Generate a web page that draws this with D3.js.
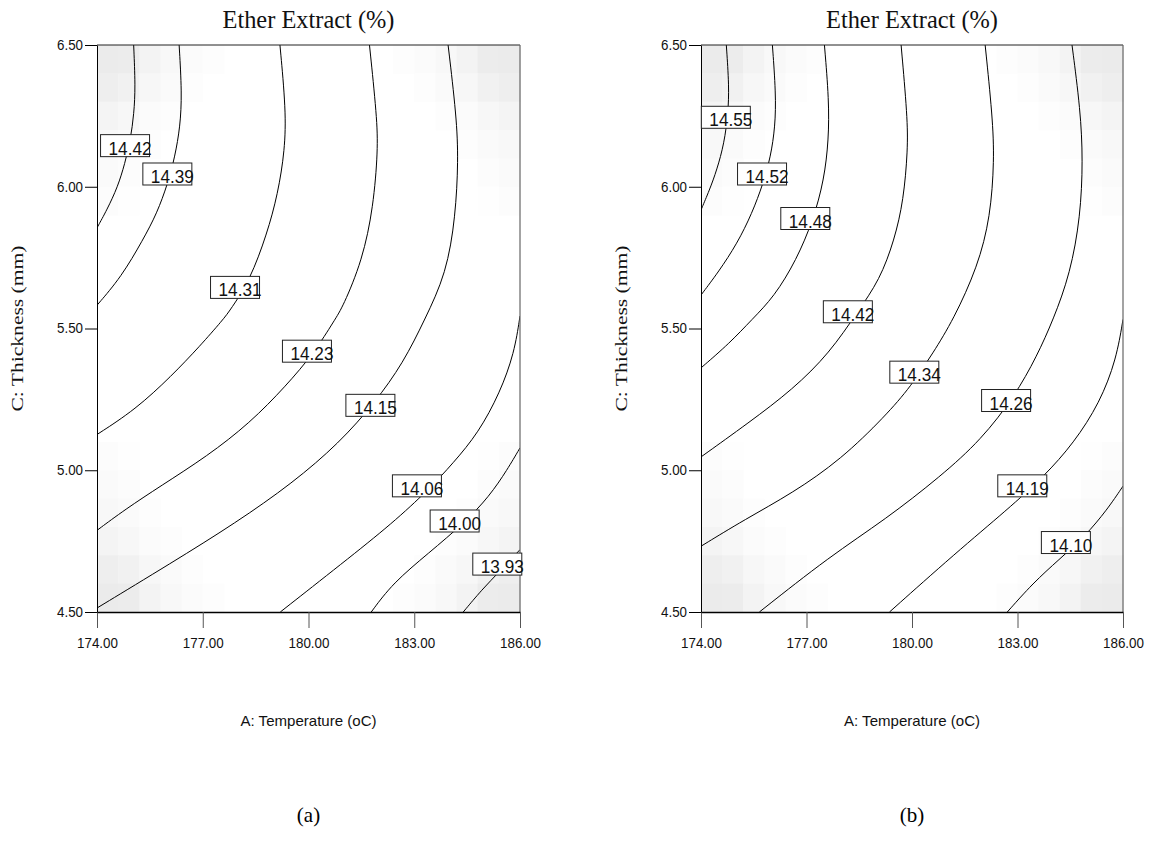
<!DOCTYPE html>
<html>
<head>
<meta charset="utf-8">
<script src="https://cdn.jsdelivr.net/npm/d3@7"></script>
<style>
  html, body { margin: 0; padding: 0; background: #fff; }
  svg { display: block; }
</style>
</head>
<body>
<svg id="chart" width="1151" height="859"></svg>
<script>
// Axis ranges and ticks (A: temperature, C: thickness)
const temperatureTicks = [174, 177, 180, 183, 186];
const thicknessTicks = [4.5, 5.0, 5.5, 6.0, 6.5];

// Panel (a): contour levels, traced iso-lines [temperature, thickness], label anchors
const levelsA = ["14.42", "14.39", "14.31", "14.23", "14.15", "14.06", "14.00", "13.93"];
const linesA = [
  [[175.04,6.5],[175.09,6.353],[175.05,6.259],[174.95,6.165],[174.79,6.082],[174.59,6.0],[174.28,5.918],[174.0,5.855]],
  [[176.33,6.5],[176.41,6.329],[176.36,6.212],[176.21,6.106],[176.01,6.012],[175.70,5.906],[175.30,5.812],[174.69,5.682],[174.0,5.582]],
  [[179.19,6.5],[179.36,6.271],[179.33,6.130],[179.13,5.974],[178.82,5.833],[178.34,5.671],[177.78,5.565],[177.58,5.532],[176.92,5.438],[176.11,5.332],[175.09,5.214],[174.0,5.126]],
  [[181.73,6.5],[181.94,6.247],[181.97,6.129],[181.84,5.929],[181.53,5.741],[180.97,5.575],[180.75,5.532],[180.16,5.414],[179.35,5.296],[178.34,5.167],[177.12,5.049],[175.80,4.944],[174.79,4.861],[174.0,4.788]],
  [[183.96,6.5],[184.20,6.247],[184.25,6.094],[184.17,5.894],[183.91,5.694],[183.30,5.532],[182.69,5.379],[181.88,5.238],[180.87,5.096],[179.55,4.955],[177.93,4.814],[176.11,4.673],[174.0,4.514]],
  [[186.0,5.544],[185.84,5.414],[185.43,5.273],[184.82,5.132],[184.11,5.026],[183.41,4.932],[182.39,4.814],[180.97,4.673],[179.20,4.5]],
  [[186.0,5.079],[185.64,5.002],[185.13,4.908],[184.42,4.814],[183.41,4.708],[182.39,4.602],[181.78,4.5]],
  [[186.0,4.720],[185.43,4.644],[184.92,4.579],[184.39,4.5]]
];
const labelPosA = [[174.81,6.145],[176.01,6.045],[177.93,5.645],[179.97,5.420],[181.77,5.229],[183.09,4.945],[184.16,4.821],[185.37,4.669]];

// Panel (b)
const levelsB = ["14.55", "14.52", "14.48", "14.42", "14.34", "14.26", "14.19", "14.10"];
const linesB = [
  [[174.72,6.5],[174.80,6.353],[174.77,6.259],[174.66,6.153],[174.45,6.059],[174.24,5.988],[174.0,5.918]],
  [[176.03,6.5],[176.13,6.329],[176.11,6.212],[175.98,6.106],[175.77,6.012],[175.45,5.906],[175.03,5.800],[174.50,5.700],[174.0,5.618]],
  [[177.51,6.5],[177.64,6.306],[177.63,6.165],[177.50,6.024],[177.19,5.882],[176.71,5.741],[176.08,5.612],[175.45,5.532],[174.82,5.449],[174.0,5.361]],
  [[179.69,6.5],[179.87,6.247],[179.88,6.129],[179.76,5.953],[179.50,5.812],[179.08,5.671],[178.46,5.560],[177.66,5.414],[176.61,5.285],[175.35,5.167],[174.0,5.047]],
  [[182.08,6.5],[182.29,6.247],[182.34,6.094],[182.23,5.894],[181.87,5.718],[181.18,5.532],[180.60,5.414],[179.97,5.296],[179.24,5.191],[177.98,5.038],[176.61,4.920],[175.24,4.826],[174.0,4.732]],
  [[184.55,6.5],[184.79,6.271],[184.86,6.094],[184.79,5.894],[184.50,5.694],[184.02,5.532],[183.55,5.402],[182.92,5.261],[181.97,5.108],[180.82,4.979],[179.24,4.826],[177.66,4.696],[175.66,4.5]],
  [[186.0,5.532],[185.81,5.391],[185.34,5.238],[184.60,5.096],[183.76,4.979],[182.71,4.861],[181.24,4.708],[179.36,4.5]],
  [[186.0,4.944],[185.55,4.861],[184.92,4.767],[184.18,4.685],[183.44,4.602],[182.71,4.5]]
];
const labelPosB = [[174.72,6.245],[175.75,6.045],[176.98,5.888],[178.19,5.559],[180.08,5.346],[182.69,5.246],[183.15,4.945],[184.39,4.745]];

// Corner shading of the 20x20 background grid (grey depth, corner cell first)
const gridSize = 20;
const cornerShade = [
  [20, 19, 12, 7, 4, 2],
  [17, 14, 8, 5, 2, 0],
  [11, 8, 4, 2, 0, 0],
  [7, 5, 2, 0, 0, 0],
  [5, 3, 0, 0, 0, 0],
  [3, 1, 0, 0, 0, 0]
];

const panels = [
  { left: 97, right: 520, levels: levelsA, lines: linesA, labels: labelPosA, tag: "(a)" },
  { left: 701, right: 1123, levels: levelsB, lines: linesB, labels: labelPosB, tag: "(b)" }
];
const plotTop = 45, plotBottom = 612;

const svg = d3.select("#chart");

panels.forEach((p, i) => {
  const x = d3.scaleLinear().domain([174, 186]).range([p.left, p.right]);
  const y = d3.scaleLinear().domain([4.5, 6.5]).range([plotBottom, plotTop]);
  const g = svg.append("g");

  // background grey cells
  const cw = (p.right - p.left) / gridSize, ch = (plotBottom - plotTop) / gridSize;
  const cells = [];
  for (let r = 0; r < gridSize; r++) {
    for (let c = 0; c < gridSize; c++) {
      const rr = Math.min(r, gridSize - 1 - r), cc = Math.min(c, gridSize - 1 - c);
      const d = (rr < cornerShade.length && cc < cornerShade[0].length) ? cornerShade[rr][cc] : 0;
      if (d > 0) cells.push({ r, c, d });
    }
  }
  g.selectAll("rect.cell").data(cells).join("rect")
    .attr("x", d => p.left + d.c * cw)
    .attr("y", d => plotTop + d.r * ch)
    .attr("width", cw + 0.5)
    .attr("height", ch + 0.5)
    .attr("fill", d => d3.rgb(255 - d.d, 255 - d.d, 255 - d.d));

  const clipId = "clip" + i;
  svg.append("clipPath").attr("id", clipId).append("rect")
    .attr("x", p.left).attr("y", plotTop)
    .attr("width", p.right - p.left).attr("height", plotBottom - plotTop);

  const line = d3.line()
    .x(d => x(d[0])).y(d => y(d[1]))
    .curve(d3.curveBasis);

  g.append("g").attr("clip-path", `url(#${clipId})`)
    .selectAll("path").data(p.lines).join("path")
    .attr("d", line)
    .attr("fill", "none")
    .attr("stroke", "#000")
    .attr("stroke-width", 1);

  // frame
  g.append("line").attr("x1", p.left).attr("x2", p.right).attr("y1", plotTop).attr("y2", plotTop)
    .attr("stroke", "#222").attr("stroke-width", 1);
  g.append("line").attr("x1", p.right).attr("x2", p.right).attr("y1", plotTop).attr("y2", plotBottom)
    .attr("stroke", "#666").attr("stroke-width", 1.2);

  // axes
  const xAxis = d3.axisBottom(x).tickValues(temperatureTicks)
    .tickFormat(d3.format(".2f")).tickSize(16).tickSizeOuter(0).tickPadding(9);
  const gx = g.append("g").attr("transform", `translate(0,${plotBottom})`).call(xAxis);
  gx.select(".domain").attr("stroke", "#000").attr("stroke-width", 1.5);
  gx.selectAll(".tick line").attr("stroke", "#555");
  gx.selectAll("text").attr("font-family", "Liberation Sans, Arial, sans-serif")
    .attr("font-size", 15).attr("fill", "#111")
    .attr("textLength", 41).attr("lengthAdjust", "spacingAndGlyphs");

  const yAxis = d3.axisLeft(y).tickValues(thicknessTicks)
    .tickFormat(d3.format(".2f")).tickSize(12).tickSizeOuter(0).tickPadding(2);
  const gy = g.append("g").attr("transform", `translate(${p.left},0)`).call(yAxis);
  gy.select(".domain").attr("stroke", "#000").attr("stroke-width", 1);
  gy.selectAll(".tick line").attr("stroke", "#000");
  gy.selectAll("text").attr("font-family", "Liberation Sans, Arial, sans-serif")
    .attr("font-size", 14).attr("fill", "#111")
    .attr("textLength", 26).attr("lengthAdjust", "spacingAndGlyphs");

  // contour labels
  const lab = g.selectAll("g.lab").data(p.labels.map((d, k) => ({ pos: d, text: p.levels[k] })))
    .join("g").attr("class", "lab")
    .attr("transform", d => `translate(${x(d.pos[0])},${y(d.pos[1])})`);
  lab.append("rect")
    .attr("x", -25).attr("y", -11).attr("width", 49).attr("height", 22)
    .attr("fill", "#fff").attr("stroke", "#222").attr("stroke-width", 1);
  lab.append("text")
    .attr("x", -17).attr("y", 9)
    .attr("font-family", "Liberation Sans, Arial, sans-serif")
    .attr("font-size", 18).attr("fill", "#111")
    .attr("textLength", 43).attr("lengthAdjust", "spacingAndGlyphs")
    .text(d => d.text);

  const cx = (p.left + p.right) / 2;
  // title
  svg.append("text").attr("x", cx).attr("y", 28)
    .attr("text-anchor", "middle")
    .attr("font-family", "Liberation Serif, Times New Roman, serif")
    .attr("font-size", 25).attr("fill", "#111")
    .attr("textLength", 172).attr("lengthAdjust", "spacingAndGlyphs")
    .text("Ether Extract (%)");

  // axis titles
  svg.append("text").attr("x", cx).attr("y", 726)
    .attr("text-anchor", "middle")
    .attr("font-family", "Liberation Sans, Arial, sans-serif")
    .attr("font-size", 15).attr("fill", "#111")
    .attr("textLength", 136).attr("lengthAdjust", "spacingAndGlyphs")
    .text("A: Temperature (oC)");

  svg.append("text")
    .attr("transform", `translate(${p.left - 74},${(plotTop + plotBottom) / 2}) rotate(-90)`)
    .attr("text-anchor", "middle")
    .attr("font-family", "Liberation Serif, Times New Roman, serif")
    .attr("font-size", 17).attr("fill", "#111")
    .attr("textLength", 166).attr("lengthAdjust", "spacingAndGlyphs")
    .text("C: Thickness (mm)");

  svg.append("text").attr("x", cx).attr("y", 822)
    .attr("text-anchor", "middle")
    .attr("font-family", "Liberation Serif, Times New Roman, serif")
    .attr("font-size", 21).attr("fill", "#000")
    .text(p.tag);
});
</script>
</body>
</html>
